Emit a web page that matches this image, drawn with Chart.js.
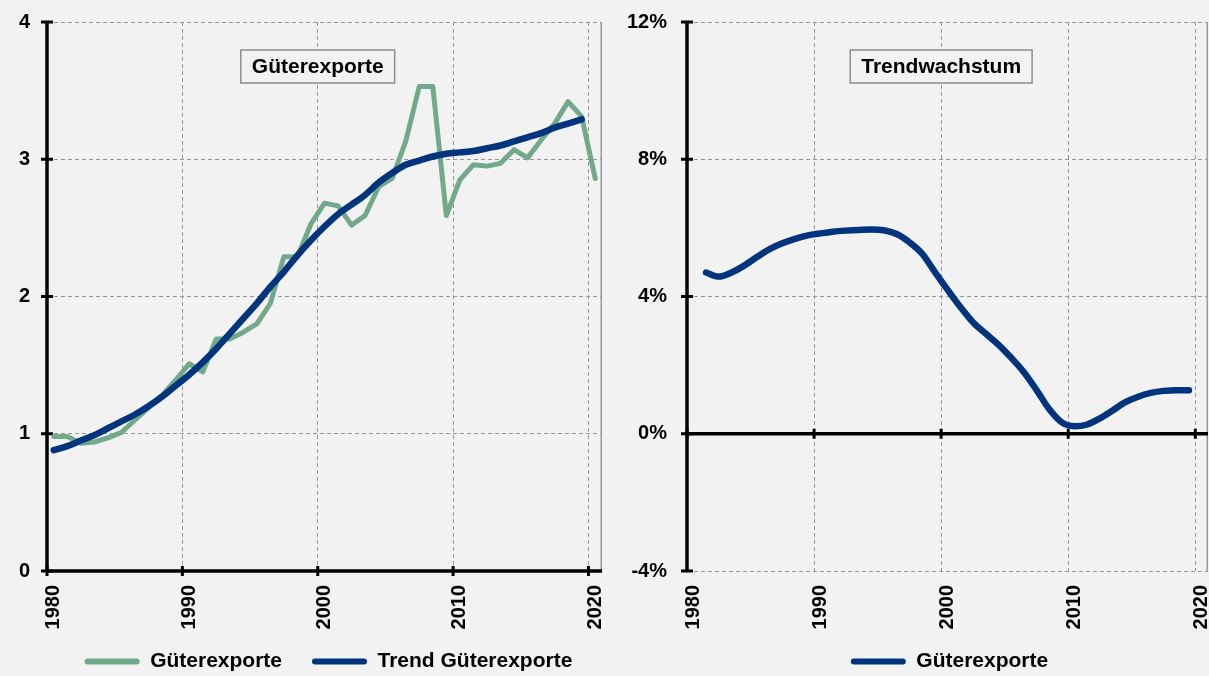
<!DOCTYPE html>
<html lang="de">
<head>
<meta charset="utf-8">
<title>Güterexporte und Trendwachstum</title>
<script src="https://cdn.jsdelivr.net/npm/chart.js@4.4.1/dist/chart.umd.min.js"></script>
<style>
  html, body { margin: 0; padding: 0; background: #f2f2f2; overflow: hidden; }
  #wrap { position: relative; width: 1209px; height: 676px; }
  canvas { position: absolute; top: 0; }
  #left { left: 0; }
  #right { left: 605px; }
</style>
</head>
<body>
<div id="wrap">
  <canvas id="left" width="605" height="676"></canvas>
  <canvas id="right" width="604" height="676"></canvas>
</div>
<script>
// Jahre der x-Achse
const years = ['1980','1981','1982','1983','1984','1985','1986','1987','1988','1989',
  '1990','1991','1992','1993','1994','1995','1996','1997','1998','1999',
  '2000','2001','2002','2003','2004','2005','2006','2007','2008','2009',
  '2010','2011','2012','2013','2014','2015','2016','2017','2018','2019','2020'];

// Güterexporte 1980-2020
const exportsValues = [0.98, 0.98, 0.93, 0.94, 0.97, 1.01, 1.10, 1.19, 1.28, 1.39,
  1.51, 1.45, 1.69, 1.69, 1.74, 1.80, 1.95, 2.29, 2.29, 2.53,
  2.68, 2.66, 2.52, 2.59, 2.80, 2.86, 3.13, 3.53, 3.53, 2.59,
  2.85, 2.96, 2.95, 2.97, 3.07, 3.01, 3.14, 3.26, 3.42, 3.31, 2.86];

// Trend Güterexporte 1980-2019
const trendValues = [0.88, 0.91, 0.95, 0.99, 1.04, 1.09, 1.14, 1.20, 1.27, 1.35,
  1.43, 1.52, 1.62, 1.73, 1.84, 1.95, 2.07, 2.18, 2.30, 2.41,
  2.51, 2.60, 2.67, 2.74, 2.83, 2.90, 2.96, 2.99, 3.02, 3.04,
  3.05, 3.06, 3.08, 3.10, 3.13, 3.16, 3.19, 3.23, 3.26, 3.29];

// Trendwachstum in % 1981-2019
const growthStart = '1981';
const growthValues = [4.70, 4.58, 4.70, 4.90, 5.15, 5.38, 5.55, 5.68, 5.78,
  5.84, 5.89, 5.92, 5.94, 5.95, 5.93, 5.82, 5.58, 5.25, 4.72,
  4.20, 3.70, 3.25, 2.92, 2.60, 2.22, 1.80, 1.28, 0.72, 0.33,
  0.22, 0.27, 0.45, 0.68, 0.92, 1.08, 1.19, 1.25, 1.27, 1.27];

const leftTicks = [0, 1, 2, 3, 4];
const rightTicks = [-4, 0, 4, 8, 12];

const GREEN = '#72a98a';
const BLUE = '#00347d';
const GRID = '#969696';
const FONT = '"Liberation Sans", Arial, sans-serif';

Chart.defaults.font.family = FONT;
Chart.defaults.color = '#000';

// Werte auf die Jahresachse legen (fehlende Jahre = null)
function onYears(values, firstYear) {
  const start = years.indexOf(firstYear);
  return years.map((y, i) => (i - start >= 0 && i - start < values.length) ? values[i - start] : null);
}

// Achsen wie in Excel: schwarze Achsenlinien mit Teilstrichen
const axesPlugin = {
  id: 'excelAxes',
  afterLayout(chart, args, opts) {
    // Jahreszahlen dürfen bis in den Legendenbereich reichen
    chart.scales.x.bottom = chart.height;
    if (opts && opts.legendShift) {
      chart.legend.left += opts.legendShift;
      chart.legend.right += opts.legendShift;
    }
  },
  beforeDatasetsDraw(chart) {
    const { ctx, chartArea: a, scales: { x, y } } = chart;
    const half = (x.getPixelForValue(1) - x.getPixelForValue(0)) / 2;
    const zeroY = y.getPixelForValue(0);
    const line = (x1, y1, x2, y2) => { ctx.beginPath(); ctx.moveTo(x1, y1); ctx.lineTo(x2, y2); ctx.stroke(); };
    ctx.save();
    ctx.strokeStyle = '#999';
    ctx.lineWidth = 1.5;
    line(a.right - 0.75, a.top, a.right - 0.75, a.bottom);
    ctx.strokeStyle = '#000';
    ctx.lineWidth = 3.5;
    line(a.left, a.top - 1, a.left, a.bottom + 1);
    line(a.left, zeroY, a.right, zeroY);
    ctx.lineWidth = 3;
    y.ticks.forEach(t => {
      const py = y.getPixelForValue(t.value);
      line(a.left - 6, py, a.left + 6, py);
    });
    x.ticks.forEach(t => {
      if (Number(years[t.value]) % 10 !== 0) return;
      const px = x.getPixelForValue(t.value) - half;
      line(px, zeroY - 5, px, zeroY + 5);
    });
    ctx.restore();
  }
};

// Titel im Rahmen
const titleBoxPlugin = {
  id: 'titleBox',
  afterDatasetsDraw(chart, args, opts) {
    if (!opts || !opts.text) return;
    const { ctx, chartArea: a, scales: { x } } = chart;
    const half = (x.getPixelForValue(1) - x.getPixelForValue(0)) / 2;
    const cx = x.getPixelForValue(years.indexOf(opts.at)) - half;
    ctx.save();
    ctx.font = 'bold 21px ' + FONT;
    const w = ctx.measureText(opts.text).width + 22;
    const h = 33;
    const top = a.top + 28;
    ctx.fillStyle = '#f2f2f2';
    ctx.fillRect(cx - w / 2, top, w, h);
    ctx.strokeStyle = '#8c8c8c';
    ctx.lineWidth = 1.5;
    ctx.strokeRect(cx - w / 2, top, w, h);
    ctx.fillStyle = '#000';
    ctx.textAlign = 'center';
    ctx.textBaseline = 'middle';
    ctx.fillText(opts.text, cx, top + h / 2 + 1);
    ctx.restore();
  }
};

function makeOptions(cfg) {
  return {
    responsive: false,
    animation: false,
    layout: { padding: { top: 22, right: cfg.padRight, bottom: -6, left: 0 } },
    elements: { point: { radius: 0 } },
    scales: {
      x: {
        type: 'category',
        offset: true,
        grid: {
          offset: true,
          drawTicks: false,
          color: ctx => (ctx.tick && Number(years[ctx.index]) % 10 === 0 && ctx.index > 0) ? GRID : 'rgba(0,0,0,0)',
          lineWidth: 1
        },
        border: { display: false, dash: [4, 3] },
        ticks: {
          autoSkip: false,
          minRotation: 90,
          maxRotation: 90,
          padding: 14,
          font: { size: 20, weight: 'bold' },
          callback: function (value) {
            const lab = this.getLabelForValue(value);
            return Number(lab) % 10 === 0 ? lab : '';
          }
        },
        afterFit: s => { s.height = 50; s.paddingLeft = 0; s.paddingRight = 0; }
      },
      y: {
        min: cfg.ticks[0],
        max: cfg.ticks[cfg.ticks.length - 1],
        afterBuildTicks: s => { s.ticks = cfg.ticks.map(v => ({ value: v })); },
        grid: {
          drawTicks: false,
          color: ctx => (ctx.tick && ctx.tick.value !== 0) ? GRID : 'rgba(0,0,0,0)',
          lineWidth: 1
        },
        border: { display: false, dash: [4, 3] },
        ticks: {
          padding: cfg.yPad,
          font: { size: 20, weight: 'bold' },
          callback: v => v + cfg.suffix
        },
        afterFit: s => { s.width = cfg.yWidth; s.paddingTop = 0; s.paddingBottom = 0; }
      }
    },
    plugins: {
      tooltip: { enabled: false },
      titleBox: { text: cfg.title, at: '2000' },
      excelAxes: { legendShift: cfg.legendShift },
      legend: {
        position: 'bottom',
        fullSize: false,
        labels: {
          boxWidth: 55,
          boxHeight: 6,
          padding: 30,
          font: { size: 21, weight: 'bold' },
          color: '#000',
          sort: (a, b) => a.datasetIndex - b.datasetIndex,
          generateLabels: chart => Chart.defaults.plugins.legend.labels.generateLabels(chart).map(item => {
            item.fillStyle = item.strokeStyle;
            item.lineWidth = 0;
            item.borderRadius = 3;
            return item;
          })
        }
      }
    }
  };
}

new Chart(document.getElementById('left'), {
  type: 'line',
  data: {
    labels: years,
    datasets: [{
      label: 'Güterexporte',
      data: exportsValues,
      borderColor: GREEN,
      backgroundColor: GREEN,
      borderWidth: 5,
      borderJoinStyle: 'round',
      borderCapStyle: 'round',
      tension: 0,
      order: 2
    }, {
      label: 'Trend Güterexporte',
      data: onYears(trendValues, '1980'),
      borderColor: BLUE,
      backgroundColor: BLUE,
      borderWidth: 6.5,
      borderCapStyle: 'round',
      cubicInterpolationMode: 'monotone',
      order: 1
    }]
  },
  options: makeOptions({ ticks: leftTicks, suffix: '', yWidth: 47, yPad: 17, padRight: 3, title: 'Güterexporte', legendShift: 4 }),
  plugins: [axesPlugin, titleBoxPlugin]
});

new Chart(document.getElementById('right'), {
  type: 'line',
  data: {
    labels: years,
    datasets: [{
      label: 'Güterexporte',
      data: onYears(growthValues, growthStart),
      borderColor: BLUE,
      backgroundColor: BLUE,
      borderWidth: 6.5,
      borderCapStyle: 'round',
      cubicInterpolationMode: 'monotone'
    }]
  },
  options: makeOptions({ ticks: rightTicks, suffix: '%', yWidth: 82, yPad: 20, padRight: 1, title: 'Trendwachstum', legendShift: 2 }),
  plugins: [axesPlugin, titleBoxPlugin]
});
</script>
</body>
</html>
